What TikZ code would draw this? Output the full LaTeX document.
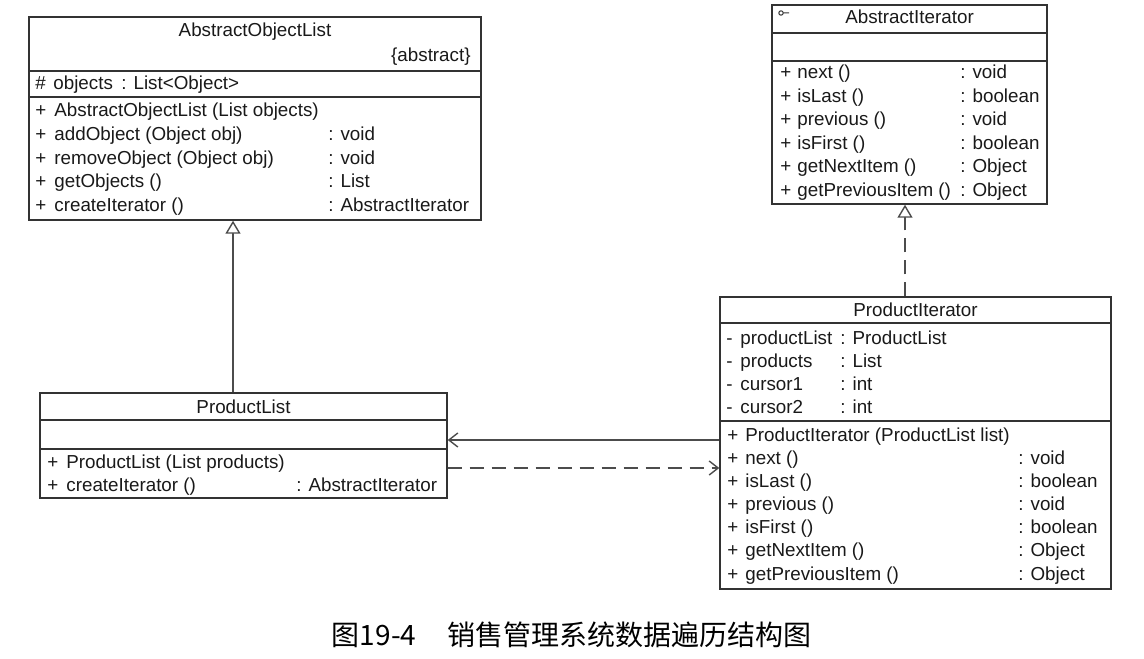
\documentclass[tikz,border=0pt]{standalone}
\usepackage{fontspec}
\setmainfont{Liberation Sans}
\newfontfamily\cjkfont{Noto Sans CJK SC}
\usetikzlibrary{arrows.meta,calc}

\tikzset{
  classbox/.style={draw=black!80, line width=0.7pt, inner sep=0pt},
  sepline/.style={draw=black!80, line width=0.7pt},
  row/.style={anchor=base west, inner sep=0pt, font=\fontsize{9.4}{11}\selectfont, text=black!90},
  ctitle/.style={anchor=base, inner sep=0pt, font=\fontsize{9.4}{11}\selectfont, text=black!90},
  gen/.style={draw=black!70, line width=0.7pt, -{Triangle[open, length=6.5pt, width=7.5pt, fill=white]}},
  real/.style={gen, dash pattern=on 7pt off 4pt},
  assoc/.style={draw=black!70, line width=0.7pt, -{Straight Barb[length=4.5pt, width=7pt]}},
  dep/.style={assoc, dash pattern=on 7pt off 4pt}
}

\begin{document}
\begin{tikzpicture}[x=0.5pt, y=-0.5pt]
\useasboundingbox (0,0) rectangle (1144,658);

% class boxes
\node[classbox, minimum width=226pt, minimum height=101.5pt] (aol) at (255,118.5) {};
\node[classbox, minimum width=137.5pt, minimum height=99.5pt] (ait) at (909.5,104.5) {};
\node[classbox, minimum width=195.5pt, minimum height=146pt] (pit) at (915.5,443) {};
\node[classbox, minimum width=203.5pt, minimum height=52.5pt] (plist) at (243.5,445.5) {};

% compartments
\draw[sepline] (aol.west |- 0,71) -- (aol.east |- 0,71);
\draw[sepline] (aol.west |- 0,97) -- (aol.east |- 0,97);
\draw[sepline] (ait.west |- 0,33) -- (ait.east |- 0,33);
\draw[sepline] (ait.west |- 0,61) -- (ait.east |- 0,61);
\draw[sepline] (pit.west |- 0,323) -- (pit.east |- 0,323);
\draw[sepline] (pit.west |- 0,421) -- (pit.east |- 0,421);
\draw[sepline] (plist.west |- 0,420) -- (plist.east |- 0,420);
\draw[sepline] (plist.west |- 0,449) -- (plist.east |- 0,449);

% AbstractObjectList
\node[ctitle] (aol-name) at (255,37) {AbstractObjectList};
\node[row, anchor=base east] (aol-abs) at (471,62) {\{abstract\}};
\node[row] (aol-a1s) at (35,90) {\#};
\node[row] (aol-a1) at (53,90) {objects};
\node[row] (aol-a1t) at (121,90) {: List<Object>};
\foreach \nm/\ty [count=\i] in {AbstractObjectList (List objects)/,
    addObject (Object obj)/: void, removeObject (Object obj)/: void,
    getObjects ()/: List, createIterator ()/: AbstractIterator}{
  \node[row] (aol-p\i) at (35,{117+23.5*(\i-1)}) {+};
  \node[row] (aol-m\i) at (54,{117+23.5*(\i-1)}) {\nm};
  \node[row] (aol-t\i) at (328,{117+23.5*(\i-1)}) {\ty};
}

% AbstractIterator
\node[ctitle] (ait-name) at (909.5,24) {AbstractIterator};
\draw[black!80, line width=0.5pt] (781,13) circle (2.2) (783.2,13) -- (789,13);
\foreach \nm/\ty [count=\i] in {next ()/: void, isLast ()/: boolean,
    previous ()/: void, isFirst ()/: boolean, getNextItem ()/: Object,
    getPreviousItem ()/: Object}{
  \node[row] (ait-p\i) at (780,{79+23.4*(\i-1)}) {+};
  \node[row] (ait-m\i) at (797,{79+23.4*(\i-1)}) {\nm};
  \node[row] (ait-t\i) at (960,{79+23.4*(\i-1)}) {\ty};
}

% ProductIterator
\node[ctitle] (pit-name) at (915.5,316) {ProductIterator};
\foreach \nm/\ty [count=\i] in {productList/: ProductList, products/: List,
    cursor1/: int, cursor2/: int}{
  \node[row] (pit-s\i) at (726,{344+23*(\i-1)}) {-};
  \node[row] (pit-a\i) at (740,{344+23*(\i-1)}) {\nm};
  \node[row] (pit-at\i) at (840,{344+23*(\i-1)}) {\ty};
}
\foreach \nm/\ty [count=\i] in {ProductIterator (ProductList list)/,
    next ()/: void, isLast ()/: boolean, previous ()/: void,
    isFirst ()/: boolean, getNextItem ()/: Object, getPreviousItem ()/: Object}{
  \node[row] (pit-p\i) at (727,{441+23.17*(\i-1)}) {+};
  \node[row] (pit-m\i) at (745,{441+23.17*(\i-1)}) {\nm};
  \node[row] (pit-t\i) at (1018,{441+23.17*(\i-1)}) {\ty};
}

% ProductList
\node[ctitle] (pl-name) at (243.5,413) {ProductList};
\foreach \nm/\ty [count=\i] in {ProductList (List products)/,
    createIterator ()/: AbstractIterator}{
  \node[row] (pl-p\i) at (47,{468+23.3*(\i-1)}) {+};
  \node[row] (pl-m\i) at (66,{468+23.3*(\i-1)}) {\nm};
  \node[row] (pl-t\i) at (296,{468+23.3*(\i-1)}) {\ty};
}

% relations
\draw[gen] ($(plist.north)+(-10.5,0)$) coordinate (g1) -- (g1 |- aol.south);
\draw[real] ($(pit.north)+(-10.5,0)$) coordinate (r1) -- (r1 |- ait.south);
\draw[assoc] ($(pit.west)+(0,-3)$) coordinate (s1) -- (s1 -| plist.east);
\draw[dep] ($(plist.east)+(0,22.5)$) coordinate (d1) -- (d1 -| pit.west);

% caption
\node[inner sep=0pt, font=\cjkfont\fontsize{14}{16}\selectfont] (caption) at (571.5,635)
  {图19-4\hspace{1.1em}销售管理系统数据遍历结构图};
\end{tikzpicture}
\end{document}
